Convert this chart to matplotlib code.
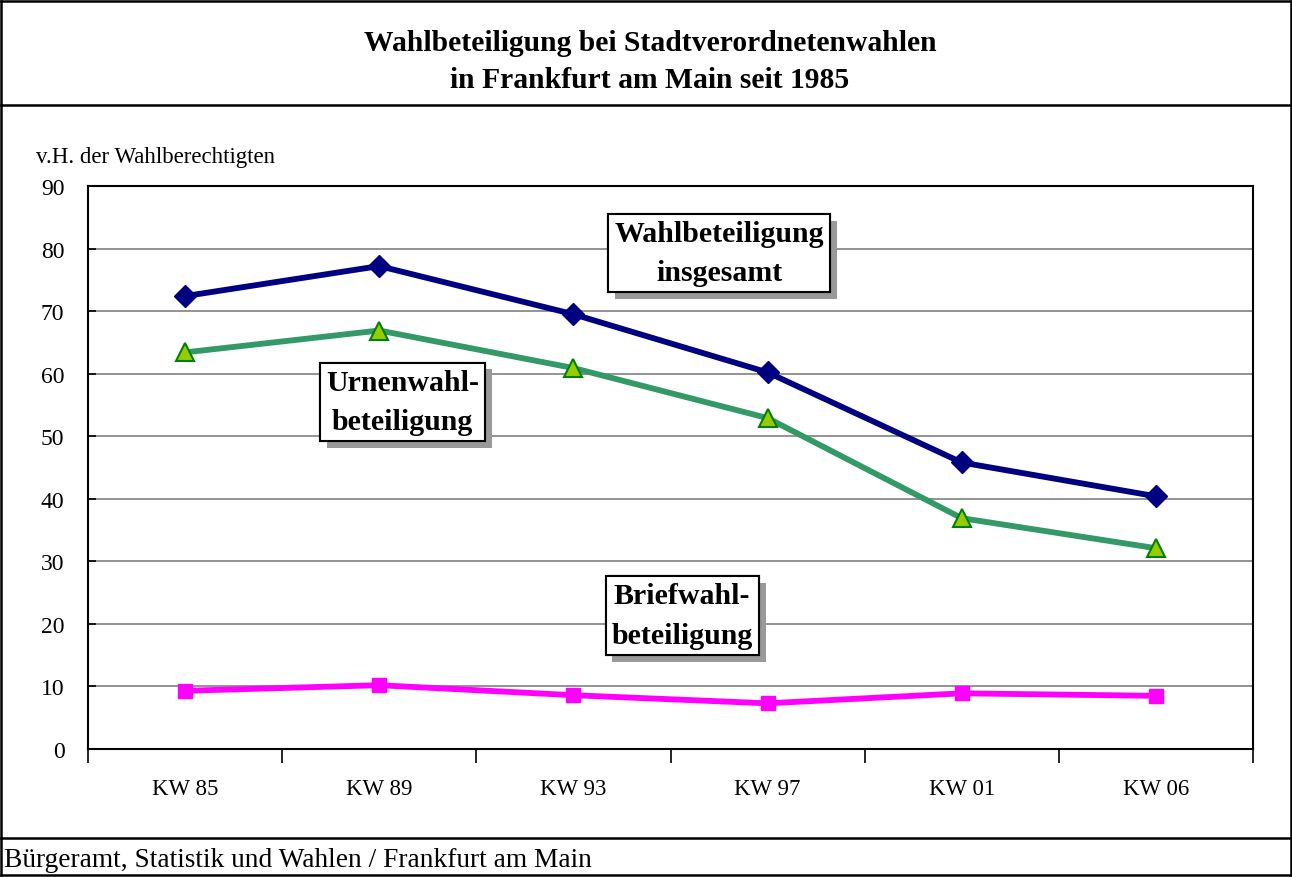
import numpy as np
import matplotlib
matplotlib.use('Agg')
import matplotlib.pyplot as plt
from matplotlib import patheffects
from matplotlib.lines import Line2D

plt.rcParams['font.family'] = ['Liberation Serif', 'DejaVu Serif']

### Data
categories = ['KW 85', 'KW 89', 'KW 93', 'KW 97', 'KW 01', 'KW 06']
insgesamt = [72.4, 77.2, 69.5, 60.2, 45.8, 40.4]
urnenwahl = [63.4, 66.9, 60.9, 52.9, 36.9, 32.1]
briefwahl = [9.3, 10.2, 8.6, 7.3, 8.9, 8.5]
yTicks = [0, 10, 20, 30, 40, 50, 60, 70, 80, 90]

fig = plt.figure(figsize = (12.92, 8.78), dpi = 100)
ax = fig.add_axes([88 / 1292, 128 / 878, 1165 / 1292, 563 / 878])

x = np.arange(len(categories))

### Series
ax.plot(x, insgesamt, color = '#000080', linewidth = 4.2, marker = 'D',
        markersize = 11, markerfacecolor = '#000080', markeredgecolor = '#000080', zorder = 5)
ax.plot(x, urnenwahl, color = '#339966', linewidth = 4.2, marker = '^',
        markersize = 13, markerfacecolor = '#99CC00', markeredgecolor = '#008000',
        markeredgewidth = 1.5, zorder = 5)
ax.plot(x, briefwahl, color = '#FF00FF', linewidth = 4.2, marker = 's',
        markersize = 10.5, markerfacecolor = '#FF00FF', markeredgecolor = '#FF00FF', zorder = 5)

### Axes config
ax.set_xlim(-0.5, len(categories) - 0.5)
ax.set_ylim(0, 90)
ax.set_yticks(yTicks)
ax.set_xticks(x)
ax.set_xticklabels(categories)
ax.set_xticks(np.arange(-0.5, len(categories)), minor = True)
ax.tick_params(axis = 'x', which = 'major', length = 0, pad = 21, labelsize = 16.5)
ax.tick_params(axis = 'x', which = 'minor', length = 10, width = 1.2, direction = 'out')
ax.tick_params(axis = 'y', length = 6, width = 1.2, direction = 'in', pad = 17, labelsize = 17)
ax.grid(axis = 'y', color = '#808080', linewidth = 1.2)
ax.set_axisbelow(True)
for spine in ax.spines.values():
    spine.set_color('black')
    spine.set_linewidth(1.5)

### Labels with shadow boxes
labelStyle = {'ha': 'center', 'va': 'center', 'fontsize': 21.5, 'fontweight': 'bold',
              'linespacing': 1.6, 'zorder': 6}
boxes = [
    (2.75, 79.3, 'Wahlbeteiligung\ninsgesamt'),
    (1.12, 55.5, 'Urnenwahl-\nbeteiligung'),
    (2.56, 21.3, 'Briefwahl-\nbeteiligung'),
]
for bx, by, text in boxes:
    t = ax.text(bx, by, text, bbox = dict(boxstyle = 'square,pad=0.2', facecolor = 'white',
                                          edgecolor = 'black', linewidth = 1.5), **labelStyle)
    t.get_bbox_patch().set_path_effects([
        patheffects.withSimplePatchShadow(offset = (5, -5), shadow_rgbFace = '#999999', alpha = 1),
        patheffects.Normal()
    ])

### Figure texts
fig.text(0.503, 1 - 62 / 878, 'Wahlbeteiligung bei Stadtverordnetenwahlen\nin Frankfurt am Main seit 1985',
         ha = 'center', va = 'center', fontsize = 21.3, fontweight = 'bold', linespacing = 1.45)
fig.text(36 / 1292, 1 - 157 / 878, 'v.H. der Wahlberechtigten', ha = 'left', va = 'center', fontsize = 16.5)
fig.text(4 / 1292, 1 - 861 / 878, 'Bürgeramt, Statistik und Wahlen / Frankfurt am Main',
         ha = 'left', va = 'center', fontsize = 19.7)

### Frame lines
frame = [
    ((0.001, 0.999), (0.998, 0.998)),
    ((0.001, 0.999), (0.002, 0.002)),
    ((0.001, 0.001), (0.002, 0.998)),
    ((0.999, 0.999), (0.002, 0.998)),
    ((0.001, 0.999), (1 - 106 / 878, 1 - 106 / 878)),
    ((0.001, 0.999), (1 - 839 / 878, 1 - 839 / 878)),
]
for xs, ys in frame:
    fig.add_artist(Line2D(xs, ys, color = 'black', linewidth = 1.8, transform = fig.transFigure))

fig.savefig('out.png', dpi = 100)
